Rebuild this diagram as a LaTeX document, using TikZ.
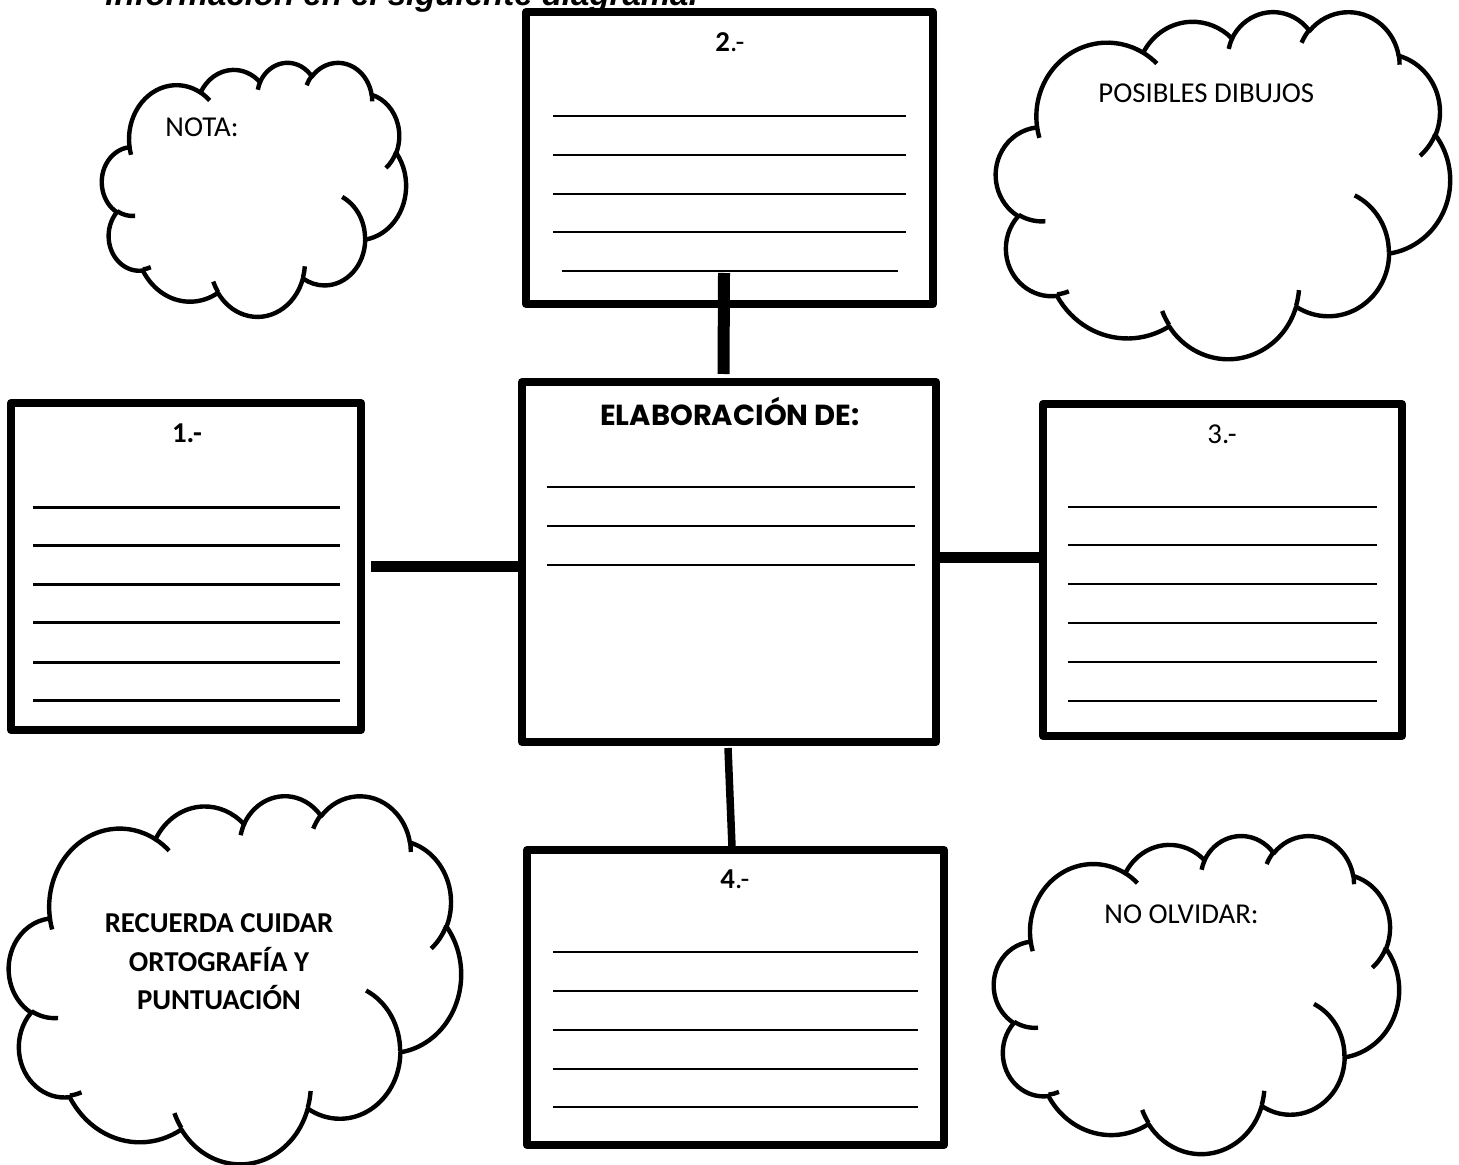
\documentclass[tikz,border=0pt]{standalone}
\usepackage{fontspec}
\setmainfont{Carlito}
\newfontfamily\elabfont{Poppins}
\newfontfamily\headfont{Liberation Sans}
\usetikzlibrary{calc}

% visual (DrawingML) angles -> parametric angles for TikZ arcs
\newcommand\defarc[5]{%
  \pgfmathsetmacro\cldtmpa{atan2((#2)*sin(#4),(#3)*cos(#4))}%
  \pgfmathsetmacro\cldtmpb{atan2((#2)*sin((#4)+(#5)),(#3)*cos((#4)+(#5)))}%
  \pgfmathsetmacro\cldtmpd{mod((\cldtmpb)-(\cldtmpa)+720,360)}%
  \expandafter\let\csname clds#1\endcsname\cldtmpa
  \expandafter\let\csname cldd#1\endcsname\cldtmpd}
% outer outline
\defarc{A}{67.53}{91.90}{-190.48748}{123.78053}
\defarc{B}{53.33}{72.67}{-144.10238}{89.94523}
\defarc{C}{43.65}{59.45}{-145.80792}{99.72302}
\defarc{D}{48.57}{65.95}{-130.98607}{117.24173}
\defarc{E}{53.33}{72.73}{-78.70888}{109.02692}
\defarc{F}{67.75}{92.20}{-46.26725}{130.269}
\defarc{G}{57.85}{78.67}{0.62502}{114.03333}
\defarc{H}{67.52}{92.15}{22.4516}{115.17255}
\defarc{I}{77.20}{105.43}{66.24263}{75.71102}
\defarc{J}{43.60}{59.18}{-274.94208}{146.73557}
\defarc{K}{43.45}{59.45}{-246.8285}{152.51885}
% inner hooks
\defarc{a}{43.45}{59.45}{86.742}{26.4295}
\defarc{b}{43.60}{59.18}{73.61047}{11.44747}
\defarc{c}{67.52}{92.15}{137.62415}{14.0811}
\defarc{d}{67.52}{92.15}{6.45327}{15.99835}
\defarc{e}{57.85}{78.67}{-70.29235}{70.91737}
\defarc{f}{53.33}{72.73}{30.31803}{27.7515}
\defarc{g}{48.57}{65.95}{-13.74433}{14.8589}
\defarc{h}{48.57}{65.95}{-149.18145}{18.19537}
\defarc{i}{43.65}{59.45}{-163.49427}{17.68635}
\defarc{j}{67.53}{91.90}{-66.70695}{12.31935}
\defarc{k}{67.53}{91.90}{157.65435}{11.85817}

\newcommand\cloudpath{%
  \draw[cloudline] (39,143.70)
    arc[x radius=67.53,y radius=91.90,start angle=\cldsA,delta angle=\clddA]
    arc[x radius=53.33,y radius=72.67,start angle=\cldsB,delta angle=\clddB]
    arc[x radius=43.65,y radius=59.45,start angle=\cldsC,delta angle=\clddC]
    arc[x radius=48.57,y radius=65.95,start angle=\cldsD,delta angle=\clddD]
    arc[x radius=53.33,y radius=72.73,start angle=\cldsE,delta angle=\clddE]
    arc[x radius=67.75,y radius=92.20,start angle=\cldsF,delta angle=\clddF]
    arc[x radius=57.85,y radius=78.67,start angle=\cldsG,delta angle=\clddG]
    arc[x radius=67.52,y radius=92.15,start angle=\cldsH,delta angle=\clddH]
    arc[x radius=77.20,y radius=105.43,start angle=\cldsI,delta angle=\clddI]
    arc[x radius=43.60,y radius=59.18,start angle=\cldsJ,delta angle=\clddJ]
    arc[x radius=43.45,y radius=59.45,start angle=\cldsK,delta angle=\clddK]
    -- cycle;
  \draw[cloudline]
    (46.93,261.77) arc[x radius=43.45,y radius=59.45,start angle=\cldsa,delta angle=\cldda]
    (69.28,348.99) arc[x radius=43.60,y radius=59.18,start angle=\cldsb,delta angle=\clddb]
    (164.78,390.90) arc[x radius=67.52,y radius=92.15,start angle=\cldsc,delta angle=\clddc]
    (288.27,347.51) arc[x radius=67.52,y radius=92.15,start angle=\cldsd,delta angle=\clddd]
    (341.29,229.54) arc[x radius=57.85,y radius=78.67,start angle=\cldse,delta angle=\cldde]
    (417.98,153.54) arc[x radius=53.33,y radius=72.73,start angle=\cldsf,delta angle=\clddf]
    (383.24,54.26) arc[x radius=48.57,y radius=65.95,start angle=\cldsg,delta angle=\clddg]
    (290.78,39.52) arc[x radius=48.57,y radius=65.95,start angle=\cldsh,delta angle=\clddh]
    (221.41,47.20) arc[x radius=43.65,y radius=59.45,start angle=\cldsi,delta angle=\clddi]
    (140.00,51.92) arc[x radius=67.53,y radius=91.90,start angle=\cldsj,delta angle=\clddj]
    (41.27,157.89) arc[x radius=67.53,y radius=91.90,start angle=\cldsk,delta angle=\clddk];
}
% cloud inside box: left x, top y, width, height (in px)
\newcommand\cloudat[4]{%
  \pgfmathsetmacro\cldxu{#3/864}%
  \pgfmathsetmacro\cldyu{-#4/864}%
  \begin{scope}[shift={(#1,#2)},x=\cldxu pt,y=\cldyu pt]
    \cloudpath
  \end{scope}}

\tikzset{
  cloudline/.style={line width=2.2pt,line join=round},
  box/.style={draw,line width=4pt,line join=round,inner sep=0pt,outer sep=0pt},
  bar/.style={line width=#1},
  rule/.style={line width=1pt},
  boldrule/.style={line width=1.5pt},
  ctext/.style={inner sep=0pt,font=\fontsize{14.4}{17}\selectfont},
}

\begin{document}
\begin{tikzpicture}[x=0.5pt,y=-0.5pt]
\useasboundingbox (0,0) rectangle (1459,1165);

% heading (cut off at the top edge)
\node[anchor=base west,inner sep=0pt,font=\headfont\bfseries\itshape\fontsize{16.5}{20}\selectfont] (head) at (105,6) {información en el siguiente diagrama.};

% boxes
\node[box,minimum width=203.5pt,minimum height=146pt] (b2) at (729.5,158) {};
\node[box,minimum width=207pt,minimum height=180pt] (bc) at (729,562) {};
\node[box,minimum width=175pt,minimum height=163.5pt] (b1) at (186,566.5) {};
\node[box,minimum width=179.5pt,minimum height=166pt] (b3) at (1222.5,570) {};
\node[box,minimum width=208.5pt,minimum height=147.5pt] (b4) at (735.5,997.5) {};

% titles
\node[ctext,anchor=base] (t2) at (730,52) {\textbf{2}.-};
\node[ctext,anchor=base,font=\fontsize{14.4}{17}\selectfont\bfseries] (t1) at (187,443) {1.-};
\node[ctext,anchor=base] (t3) at (1222,444) {3.-};
\node[ctext,anchor=base] (t4) at (735,888) {\textbf{4}.-};
\node[anchor=base,inner sep=0pt,font=\elabfont\bfseries\fontsize{14.5}{17}\selectfont] (tc) at (730,425) {ELABORACIÓN DE:};

% writing lines
\foreach \y in {116,155,194,232} \draw[rule] (553,\y) -- (906,\y);
\draw[rule] (562,271) -- (898,271);
\foreach \y in {487,526,565} \draw[rule] (547,\y) -- (915,\y);
\foreach \y in {507,545,584,622,662,700} \draw[boldrule] (33,\y) -- (340,\y);
\foreach \y in {507,545,584,623,662,701} \draw[rule] (1068,\y) -- (1377,\y);
\foreach \y in {952,991,1030,1069,1107} \draw[rule] (553,\y) -- (918,\y);

% connectors
\draw[bar=6pt] ($(b2.south)+(-5.5,-31)$) -- ($(bc.north)+(-5.5,-8)$);
\draw[bar=5.5pt] ($(b1.east)+(10,0)$) -- (bc.west |- b1.east);
\draw[bar=5.5pt] ($(bc.east)+(0,-5)$) -- ($(b3.west)+(0,-13)$);
\draw[bar=3.75pt] ($(bc.south)+(-1,6)$) -- ($(b4.north)+(-3.5,-3)$);

% clouds
\cloudat{102}{62}{304}{254}
\cloudat{996}{11}{454}{347}
\cloudat{9}{795}{452}{368}
\cloudat{994}{835}{405}{318}

\node[ctext,anchor=base west] (nota) at (165,137) {NOTA:};
\node[ctext,anchor=base west] (dibujos) at (1098,103) {POSIBLES DIBUJOS};
\node[ctext,anchor=base west] (olvidar) at (1104,923) {NO OLVIDAR:};
\node[ctext,align=center,font=\fontsize{14.4}{19.25}\selectfont\bfseries] (recuerda) at (219,962) {RECUERDA CUIDAR\\ORTOGRAFÍA Y\\PUNTUACIÓN};
\end{tikzpicture}
\end{document}
